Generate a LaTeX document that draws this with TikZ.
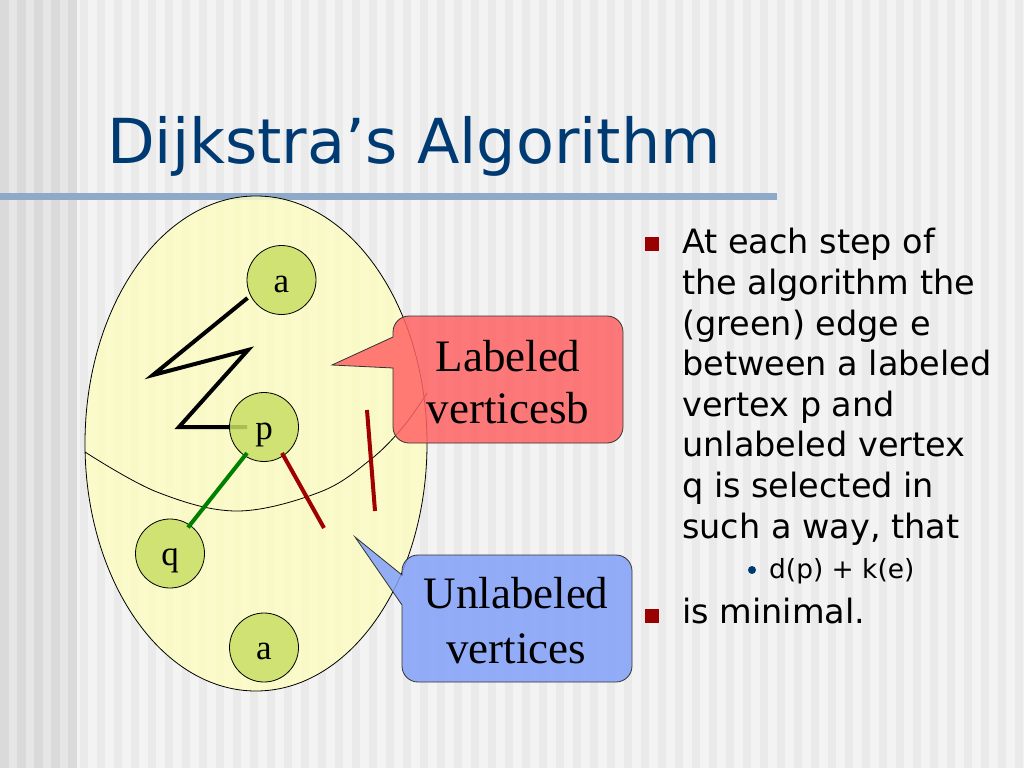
\documentclass[tikz,border=0pt]{standalone}
\usepackage{fontspec}
\setmainfont{Liberation Serif}
\newfontfamily\verd{DejaVu Sans}
\usetikzlibrary{shapes.geometric}
\definecolor{bgR}{RGB}{243,243,243}
\definecolor{bgRs}{RGB}{234,234,234}
\definecolor{bgL}{RGB}{230,230,230}
\definecolor{bgLs}{RGB}{218,218,218}
\definecolor{titleblue}{RGB}{0,58,115}
\definecolor{barblue}{RGB}{143,170,200}
\definecolor{ellfill}{RGB}{252,252,195}
\definecolor{vfill}{RGB}{200,222,100}
\definecolor{calred}{RGB}{255,100,100}
\definecolor{calblue}{RGB}{130,160,250}
\definecolor{bulred}{RGB}{153,0,0}
\definecolor{edgered}{RGB}{160,0,0}
\definecolor{edgegreen}{RGB}{0,128,0}
\tikzset{
  vert/.style={circle,draw=black,line width=0.8pt,fill=vfill,fill opacity=0.85,text opacity=1,
    minimum size=69pt,inner sep=0pt,font=\fontsize{35}{40}\selectfont,text height=28pt,text depth=4pt},
  zz/.style={line width=4pt,black,line join=miter},
  gedge/.style={line width=4pt,edgegreen},
  redge/.style={line width=4pt,edgered},
  callR/.style={draw=black!80,line width=0.8pt,fill=calred,fill opacity=0.85},
  callB/.style={draw=black!80,line width=0.8pt,fill=calblue,fill opacity=0.85},
  caltext/.style={anchor=base,inner sep=0pt,font=\fontsize{45}{54}\selectfont},
  body/.style={anchor=base west,inner sep=0pt,font=\verd\fontsize{33.5}{40}\selectfont},
  subbody/.style={anchor=base west,inner sep=0pt,font=\verd\fontsize{26.4}{32}\selectfont},
  bsq/.style={rectangle,fill=bulred,minimum width=14pt,minimum height=14pt,inner sep=0pt},
}
\begin{document}
\begin{tikzpicture}[x=1pt,y=-1pt]
\useasboundingbox (0,0) rectangle (1024,768);
% background
\fill[bgR] (0,0) rectangle (1024,768);
\foreach \x in {80,97,...,1020} \fill[bgRs] (\x,0) rectangle (\x+8,768);
\fill[bgL] (0,0) rectangle (77,768);
\foreach \x in {0,17,34,51,68} \fill[bgLs] (\x,0) rectangle (\x+9,768);
% title and bar
\node[anchor=base west,inner sep=0pt,text=titleblue,font=\verd\fontsize{62}{74}\selectfont] (title) at (107,163) {Dijkstra’s Algorithm};
\fill[barblue] (0,193) rectangle (777,200);
% region
\node[ellipse,draw=black,line width=0.8pt,fill=ellfill,fill opacity=0.85,minimum width=342pt,minimum height=495pt,inner sep=0pt] (region) at (256,443.5) {};
\draw[line width=0.8pt] plot[smooth,tension=0.6] coordinates {(85,452) (157,492) (237,511) (320,492) (370,460) (403,427) (427,393)};
% zigzag (under vertices)
\coordinate (a1pos) at (281.5,280);
\coordinate (ppos) at (264,427);
\draw[zz] (a1pos) ++(-34,18) -- (153,375) -- (248,350) -- (179,427) -- ([xshift=-17pt]ppos);
% vertices
\node[vert] (a1) at (a1pos) {a};
\node[vert] (p) at (ppos) {p};
\node[vert] (q) at (170,553.5) {q};
\node[vert] (a2) at (264,647.5) {a};
% edges
\draw[gedge] ([shift={(-17,26)}]p.center) -- ([shift={(18,-26)}]q.center);
\coordinate (r1e) at (324,528);
\draw[redge] ([shift={(18,26)}]p.center) -- (r1e);
\coordinate (r2s) at (367,410);
\coordinate (r2e) at (375,511);
\draw[redge] (r2s) -- (r2e);
% red callout
\coordinate (tipR) at (332,365);
\path[callR] (393,368) -- (393,427) arc[start angle=180,end angle=270,radius=16pt] -- (607,443) arc[start angle=270,end angle=360,radius=16pt] -- (623,332) arc[start angle=0,end angle=90,radius=16pt] -- (409,316) arc[start angle=90,end angle=180,radius=16pt] -- (393,337) -- (tipR) -- cycle;
\node[caltext] (lab1) at (508,371) {Labeled};
\node[caltext] (lab2) at (508,423) {verticesb};
% blue callout
\coordinate (tipB) at (355,537);
\path[callB] (402,605) -- (402,666) arc[start angle=180,end angle=270,radius=16pt] -- (616,682) arc[start angle=270,end angle=360,radius=16pt] -- (632,571) arc[start angle=0,end angle=90,radius=16pt] -- (418,555) arc[start angle=90,end angle=180,radius=16pt] -- (402,575) -- (tipB) -- cycle;
\node[caltext] (ulab1) at (516,608) {Unlabeled};
\node[caltext] (ulab2) at (516,663) {vertices};
% bullet text
\node[bsq] (b1) at (652,244) {};
\node[body] (l1) at (682,253) {At each step of};
\node[body] (l2) at (682,294) {the algorithm the};
\node[body] (l3) at (682,335) {(green) edge e};
\node[body] (l4) at (682,375) {between a labeled};
\node[body] (l5) at (682,416) {vertex p and};
\node[body] (l6) at (682,456) {unlabeled vertex};
\node[body] (l7) at (682,497) {q is selected in};
\node[body] (l8) at (682,538) {such a way, that};
\node[circle,fill=titleblue,minimum size=8pt,inner sep=0pt] (sb) at (752,570) {};
\node[subbody] (s1) at (769,578) {d(p) + k(e)};
\node[bsq] (b2) at (652,616) {};
\node[body] (l9) at (682,623) {is minimal.};
\end{tikzpicture}
\end{document}
